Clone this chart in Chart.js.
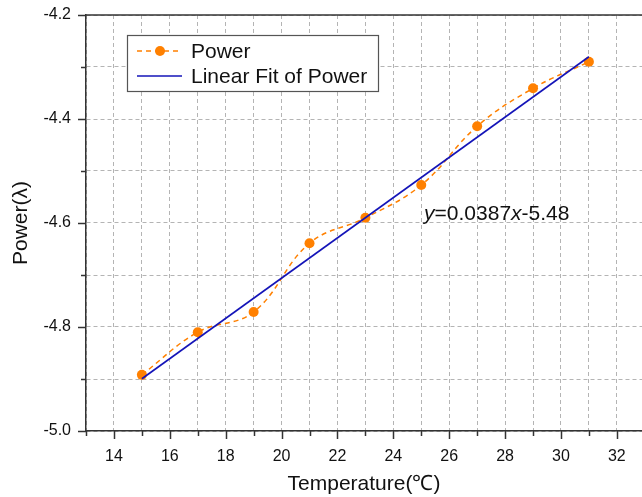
<!DOCTYPE html>
<html>
<head>
<meta charset="utf-8">
<script src="https://cdn.jsdelivr.net/npm/chart.js@4/dist/chart.umd.min.js"></script>
<style>
  html, body { margin: 0; padding: 0; background: #fff; }
  #wrap { width: 642px; height: 497px; overflow: hidden; }
</style>
</head>
<body>
<div id="wrap"><canvas id="powerChart" width="642" height="497"></canvas></div>
<script>
// measured power vs temperature
const temps = [15, 17, 19, 21, 23, 25, 27, 29, 31];
const power = [-4.892, -4.81, -4.771, -4.639, -4.59, -4.527, -4.414, -4.341, -4.29];

// linear fit y = a*x + b, drawn over the measured range
const fitSlope = 0.0387;
const fitIntercept = -5.48;
const fitRange = [15, 31];

// axis ranges
const xRange = [13, 32.9];
const yRange = [-5.0, -4.2];
const xStep = 1;
const yStep = 0.1;

// equation label anchor (data units)
const eqAt = [25.1, -4.595];

const FONT = "'Liberation Sans', Arial, sans-serif";
const ORANGE = "#ff8000";
const BLUE = "#1414b8";
const AXIS = "#333";

const fitPoints = fitRange.map(t => ({ x: t, y: fitSlope * t + fitIntercept }));
const powerPoints = temps.map((t, i) => ({ x: t, y: power[i] }));

// keep the plot box fixed: no extra room for overhanging labels
const noScalePadding = s => {
  s.paddingTop = 0;
  s.paddingBottom = 0;
  s.paddingLeft = 0;
  s.paddingRight = 0;
};

/* =========================
   FRAME, TICKS, LEGEND, EQUATION
========================= */
const decorations = {
  id: "decorations",
  afterDraw(chart) {
    const { ctx, chartArea: a, scales: { x, y } } = chart;
    const line = (x1, y1, x2, y2) => {
      ctx.beginPath();
      ctx.moveTo(x1, y1);
      ctx.lineTo(x2, y2);
      ctx.stroke();
    };

    ctx.save();
    ctx.strokeStyle = AXIS;
    ctx.lineWidth = 1.5;
    line(a.left, a.top, a.right, a.top);

    // outward ticks, major on labelled values
    x.ticks.forEach(t => {
      const px = Math.round(x.getPixelForValue(t.value)) + 0.5;
      const len = t.label !== "" ? 8 : 5;
      line(px, a.bottom, px, a.bottom + len);
    });
    y.ticks.forEach(t => {
      const py = Math.round(y.getPixelForValue(t.value)) + 0.5;
      const len = t.label !== "" ? 8 : 5;
      line(a.left - len, py, a.left, py);
    });

    // legend
    const box = { l: 127, t: 35, r: 378, b: 91 };
    ctx.fillStyle = "#fff";
    ctx.fillRect(box.l, box.t, box.r - box.l, box.b - box.t);
    ctx.strokeStyle = "#555";
    ctx.lineWidth = 1.2;
    ctx.strokeRect(box.l + 0.5, box.t + 0.5, box.r - box.l, box.b - box.t);

    const sets = chart.data.datasets;
    const rows = [51, 76];
    ctx.font = "21px " + FONT;
    ctx.textBaseline = "middle";
    ctx.textAlign = "left";
    sets.forEach((ds, i) => {
      const ry = rows[i];
      ctx.strokeStyle = ds.borderColor;
      ctx.lineWidth = ds.borderWidth;
      ctx.setLineDash(ds.borderDash || []);
      line(137, ry, 182, ry);
      ctx.setLineDash([]);
      if (ds.pointRadius) {
        ctx.fillStyle = ds.pointBackgroundColor;
        ctx.beginPath();
        ctx.arc(160, ry, ds.pointRadius, 0, Math.PI * 2);
        ctx.fill();
      }
      ctx.fillStyle = "#111";
      ctx.fillText(ds.label, 191, ry + 1);
    });

    // fit equation
    const parts = [
      ["y", true],
      ["=" + fitSlope.toFixed(4), false],
      ["x", true],
      [(fitIntercept < 0 ? "-" : "+") + Math.abs(fitIntercept).toFixed(2), false]
    ];
    let ex = x.getPixelForValue(eqAt[0]);
    const ey = y.getPixelForValue(eqAt[1]);
    ctx.textBaseline = "alphabetic";
    ctx.fillStyle = "#111";
    parts.forEach(([txt, italic]) => {
      ctx.font = (italic ? "italic " : "") + "21px " + FONT;
      ctx.fillText(txt, ex, ey);
      ex += ctx.measureText(txt).width;
    });
    ctx.restore();
  }
};

const ctx = document.getElementById("powerChart");

new Chart(ctx, {
  type: "scatter",
  data: {
    datasets: [
      {
        label: "Power",
        data: powerPoints,
        showLine: true,
        tension: 0.4,
        borderColor: ORANGE,
        borderWidth: 1.5,
        borderDash: [5, 4],
        pointRadius: 5,
        pointBackgroundColor: ORANGE,
        pointBorderWidth: 0,
        order: 2
      },
      {
        label: "Linear Fit of Power",
        data: fitPoints,
        showLine: true,
        borderColor: BLUE,
        borderWidth: 1.6,
        pointRadius: 0,
        order: 1
      }
    ]
  },
  options: {
    responsive: false,
    animation: false,
    layout: { autoPadding: false, padding: { top: 15, right: 0, bottom: 0, left: 0 } },
    plugins: {
      legend: { display: false },
      tooltip: { enabled: false }
    },
    scales: {
      x: {
        type: "linear",
        min: xRange[0],
        max: xRange[1],
        afterFit: s => { s.height = 66; noScalePadding(s); },
        ticks: {
          stepSize: xStep,
          includeBounds: false,
          autoSkip: false,
          maxRotation: 0,
          padding: 16,
          color: "#111",
          font: { family: FONT, size: 16 },
          callback: v => (Math.round(v) % 2 === 0 ? String(Math.round(v)) : "")
        },
        grid: { color: "#b4b4b4", lineWidth: 1, drawTicks: false },
        border: { display: true, color: AXIS, width: 1.5, dash: [4, 3] },
        title: {
          display: true,
          text: "Temperature(℃)",
          color: "#111",
          font: { family: FONT, size: 21 },
          padding: { top: 0, bottom: 0 }
        }
      },
      y: {
        type: "linear",
        min: yRange[0],
        max: yRange[1],
        afterFit: s => { s.width = 86; noScalePadding(s); },
        ticks: {
          stepSize: yStep,
          includeBounds: false,
          autoSkip: false,
          padding: 15,
          color: "#111",
          font: { family: FONT, size: 16 },
          callback: v => (Math.round(v * 10) % 2 === 0 ? v.toFixed(1) : "")
        },
        grid: { color: "#b4b4b4", lineWidth: 1, drawTicks: false },
        border: { display: true, color: AXIS, width: 1.5, dash: [4, 3] },
        title: {
          display: true,
          text: "Power(λ)",
          color: "#111",
          font: { family: FONT, size: 21 },
          padding: { top: 9, bottom: 0 }
        }
      }
    }
  },
  plugins: [decorations]
});
</script>
</body>
</html>
